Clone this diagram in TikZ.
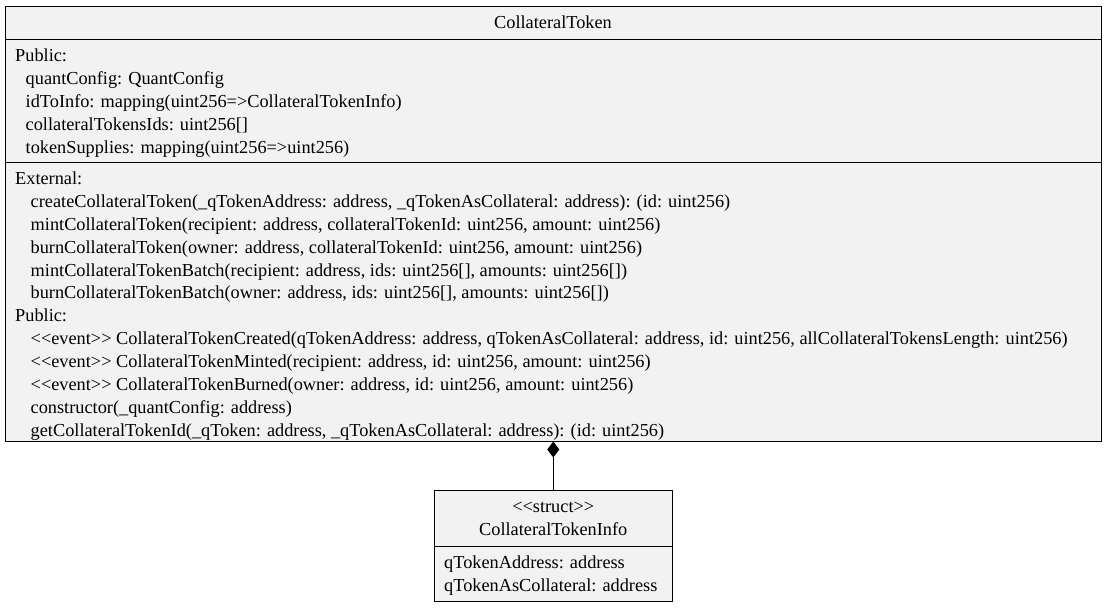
\documentclass[tikz,border=0pt]{standalone}
\usepackage{fontspec}
\setmainfont{Liberation Serif}
\usetikzlibrary{arrows.meta,positioning}
\definecolor{boxgray}{HTML}{F2F2F2}
\newcommand{\stereo}[1]{<\kern0pt<#1>\kern0pt>}
\tikzset{
  part/.style={draw=black, fill=boxgray, line width=1pt, inner sep=0pt, outer sep=0pt, anchor=north west,
    font=\fontsize{18.3}{22.5}\selectfont, align=center},
  txt/.style={font=\fontsize{18.3}{22.9}\selectfont, align=left, inner sep=0pt, anchor=north west},
}
\begin{document}
\begin{tikzpicture}[x=1pt, y=-1pt]
  \useasboundingbox (0,0) rectangle (1107,608);
  % CollateralToken class
  \node[part, minimum width=1096pt, minimum height=33pt] (tokHead) at (5,6) {CollateralToken};
  \node[part, below=0pt of tokHead, minimum width=1096pt, minimum height=123pt] (tokAttr) {};
  \node[part, below=0pt of tokAttr, minimum width=1096pt, minimum height=279.5pt] (tokOps) {};
  \node[txt] (tokAttrTxt) at ([xshift=10pt, yshift=-9.5pt]tokAttr.north west) {Public:\\
    \hspace*{10.5pt}quantConfig: QuantConfig\\
    \hspace*{10.5pt}idToInfo: mapping(uint256=>CollateralTokenInfo)\\
    \hspace*{10.5pt}collateralTokensIds: uint256[]\\
    \hspace*{10.5pt}tokenSupplies: mapping(uint256=>uint256)};
  \node[txt] (tokOpsTxt) at ([xshift=10pt, yshift=-9.5pt]tokOps.north west) {External:\\
    \hspace*{15.5pt}createCollateralToken(\_qTokenAddress: address, \_qTokenAsCollateral: address): (id: uint256)\\
    \hspace*{15.5pt}mintCollateralToken(recipient: address, collateralTokenId: uint256, amount: uint256)\\
    \hspace*{15.5pt}burnCollateralToken(owner: address, collateralTokenId: uint256, amount: uint256)\\
    \hspace*{15.5pt}mintCollateralTokenBatch(recipient: address, ids: uint256[], amounts: uint256[])\\
    \hspace*{15.5pt}burnCollateralTokenBatch(owner: address, ids: uint256[], amounts: uint256[])\\
    Public:\\
    \hspace*{15.5pt}\stereo{event} CollateralTokenCreated(qTokenAddress: address, qTokenAsCollateral: address, id: uint256, allCollateralTokensLength: uint256)\\
    \hspace*{15.5pt}\stereo{event} CollateralTokenMinted(recipient: address, id: uint256, amount: uint256)\\
    \hspace*{15.5pt}\stereo{event} CollateralTokenBurned(owner: address, id: uint256, amount: uint256)\\
    \hspace*{15.5pt}constructor(\_quantConfig: address)\\
    \hspace*{15.5pt}getCollateralTokenId(\_qToken: address, \_qTokenAsCollateral: address): (id: uint256)};
  % CollateralTokenInfo struct
  \node[part, minimum width=238.5pt, minimum height=56pt] (infoHead) at (434,490.7) {\stereo{struct}\\CollateralTokenInfo};
  \node[part, below=0pt of infoHead, minimum width=238.5pt, minimum height=55pt] (infoAttr) {};
  \node[txt] (infoAttrTxt) at ([xshift=10pt, yshift=-8.5pt]infoAttr.north west) {qTokenAddress: address\\
    qTokenAsCollateral: address};
  % composition
  \draw[line width=1pt, -{Diamond[length=16pt, width=12pt]}] (infoHead.north) -- (infoHead.north |- tokOps.south);
\end{tikzpicture}
\end{document}
